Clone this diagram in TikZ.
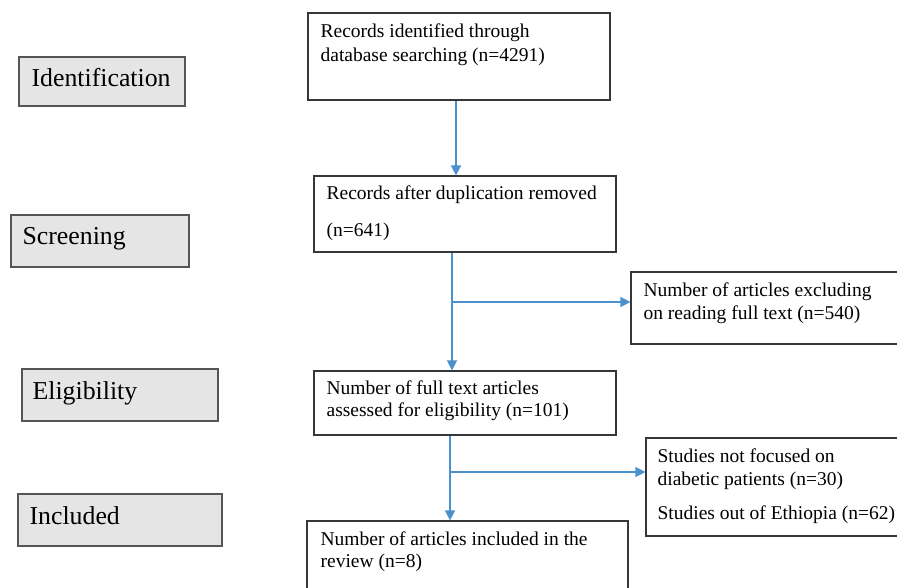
\documentclass[tikz,border=0pt]{standalone}
\usepackage{fontspec}
\setmainfont{Liberation Serif}
\usetikzlibrary{arrows.meta}
\definecolor{arrblue}{RGB}{76,145,206}
\definecolor{boxline}{RGB}{55,55,55}
\definecolor{greyfill}{RGB}{229,229,229}
\tikzset{
  mainbox/.style={draw=boxline, line width=1.2pt, inner sep=0pt, fill=white},
  stagebox/.style={draw=boxline!85, line width=1.2pt, inner sep=0pt, fill=greyfill},
  maintext/.style={anchor=base west, inner sep=0pt, align=left, font=\fontsize{19.5}{23}\selectfont},
  stagetext/.style={anchor=base west, inner sep=0pt, font=\fontsize{25.8}{30}\selectfont},
  arr/.style={draw=arrblue, line width=1.4pt, -{Triangle[length=10pt,width=10pt]}},
  ln/.style={draw=arrblue, line width=1.4pt}
}
\begin{document}
\begin{tikzpicture}[x=1pt,y=-1pt]
\useasboundingbox (0,0) rectangle (897,587);
\clip (0,0) rectangle (897,587);
\fill[white] (0,0) rectangle (897,587);

% stage boxes
\node[stagebox, minimum width=166pt, minimum height=49pt] (sid) at (102,81.5) {};
\node[stagebox, minimum width=178pt, minimum height=52pt] (ssc) at (100,241) {};
\node[stagebox, minimum width=196pt, minimum height=52pt] (sel) at (120,395) {};
\node[stagebox, minimum width=204pt, minimum height=52pt] (sin) at (120,520) {};
\node[stagetext] (tid) at ([shift={(13,30)}]sid.north west) {Identification};
\node[stagetext] (tsc) at ([shift={(12,30)}]ssc.north west) {Screening};
\node[stagetext] (tel) at ([shift={(11,31)}]sel.north west) {Eligibility};
\node[stagetext] (tin) at ([shift={(12,31)}]sin.north west) {Included};

% main boxes
\node[mainbox, minimum width=302pt, minimum height=87pt] (b1) at (459,56.5) {};
\node[mainbox, minimum width=302pt, minimum height=76pt] (b2) at (465,214) {};
\node[mainbox, minimum width=279pt, minimum height=72pt] (b3) at (770.5,308) {};
\node[mainbox, minimum width=302pt, minimum height=64pt] (b4) at (465,403) {};
\node[mainbox, minimum width=264pt, minimum height=98pt] (b5) at (778,487) {};
\node[mainbox, minimum width=321pt, minimum height=79pt] (b6) at (467.5,560.5) {};

% multi-line texts: base anchor = baseline of last line
\node[maintext] (t1) at ([shift={(13,49)}]b1.north west) {Records identified through\\[1pt]database searching (n=4291)};
\node[maintext] (t2) at ([shift={(13,61)}]b2.north west) {Records after duplication removed\\[14pt](n=641)};
\node[maintext] (t3) at ([shift={(13,48)}]b3.north west) {Number of articles excluding\\on reading full text (n=540)};
\node[maintext] (t4) at ([shift={(13,46)}]b4.north west) {Number of full text articles\\[-1pt]assessed for eligibility (n=101)};
\node[maintext] (t5) at ([shift={(12,82)}]b5.north west) {Studies not focused on\\diabetic patients (n=30)\\[11pt]Studies out of Ethiopia (n=62)};
\node[maintext] (t6) at ([shift={(14,47)}]b6.north west) {Number of articles included in the\\[-1pt]review (n=8)};

% connectors
\coordinate (j1) at (452,302);
\coordinate (j2) at (450,472);
\draw[arr] (b1.south -| 456,0) -- (b2.north -| 456,0);
\draw[arr] (b2.south -| j1) -- (b4.north -| j1);
\draw[arr] (j1) -- (b3.west |- j1);
\draw[arr] (b4.south -| j2) -- (b6.north -| j2);
\draw[arr] (j2) -- (b5.west |- j2);
\end{tikzpicture}
\end{document}
